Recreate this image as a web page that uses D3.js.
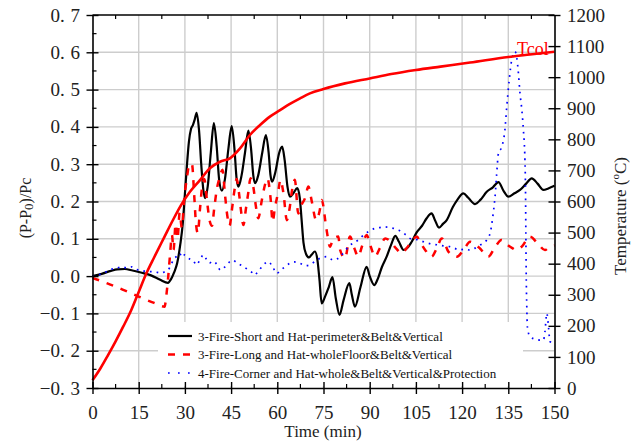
<!DOCTYPE html>
<html>
<head>
<meta charset="utf-8">
<script src="https://cdn.jsdelivr.net/npm/d3@7"></script>
<style>
  body { margin: 0; background: #fff; }
  svg { display: block; font-family: "Liberation Serif", "Times New Roman", serif; }
</style>
</head>
<body>
<svg id="chart" width="643" height="446"></svg>
<script>
// Axis ticks
const timeTicks = [0, 15, 30, 45, 60, 75, 90, 105, 120, 135, 150];
const pressureTicks = [-0.3, -0.2, -0.1, 0.0, 0.1, 0.2, 0.3, 0.4, 0.5, 0.6, 0.7];
const tempTicks = [0, 100, 200, 300, 400, 500, 600, 700, 800, 900, 1000, 1100, 1200];

const seriesNames = [
  "3-Fire-Short and Hat-perimeter&Belt&Vertical",
  "3-Fire-Long and Hat-wholeFloor&Belt&Vertical",
  "4-Fire-Corner and Hat-whole&Belt&Vertical&Protection"
];

// 3-Fire-Short: normalised pressure (P-P0)/Pc over time (min)
const shortTime = [0,3,6,8,10.5,13,16,19,22,24.5,25.5,26.5,27.5,28.5,29.3,30,30.6,31.3,32,32.6,33.2,33.8,34.6,35.3,36,36.6,37.4,38.4,39.4,40.3,41.1,42,43,44.1,45.2,46.1,46.8,47.4,48.4,49.5,50.6,51.5,52.2,52.8,53.8,55.1,56.3,57.2,57.8,58.3,59.4,60.6,61.6,62.4,63.3,64.1,65.2,66.5,67.3,67.9,68.5,69.3,70.3,71.2,72.2,73,73.7,74.4,75.5,76.7,77.9,79,80.2,81.5,83.4,84.2,85.2,87,89,90,91.5,92.5,94,95.5,97,98.3,99.5,101,102.5,103.5,105.3,107,108.5,110.1,111.2,112.5,113.8,115,117,118.5,120.4,122,124.2,126,128,130,131.8,133.5,135,137,138.8,140.8,142.6,144.5,146.4,148,150];
const shortP = [0,0.006,0.014,0.018,0.019,0.015,0.009,0.002,-0.01,-0.018,-0.008,0.01,0.035,0.085,0.14,0.22,0.29,0.36,0.395,0.405,0.42,0.438,0.39,0.30,0.23,0.209,0.24,0.33,0.41,0.35,0.26,0.229,0.26,0.34,0.402,0.34,0.26,0.24,0.27,0.33,0.39,0.34,0.27,0.249,0.27,0.33,0.378,0.33,0.27,0.253,0.28,0.33,0.347,0.31,0.24,0.213,0.222,0.236,0.21,0.15,0.09,0.06,0.05,0.058,0.066,0.045,-0.01,-0.073,-0.055,-0.03,-0.003,-0.06,-0.104,-0.065,-0.019,-0.05,-0.082,-0.03,0.025,0,-0.024,-0.01,0.025,0.052,0.085,0.108,0.092,0.07,0.078,0.09,0.118,0.135,0.155,0.168,0.15,0.13,0.14,0.15,0.185,0.205,0.222,0.21,0.193,0.205,0.226,0.238,0.252,0.228,0.213,0.222,0.231,0.248,0.262,0.248,0.231,0.235,0.242];

// 3-Fire-Long
const longTime = [0,5,10,15,20,23.4,24,24.6,25.2,25.8,26.3,27,27.6,28.3,29,29.8,30.6,31.5,32.3,33,33.6,34.2,34.9,35.6,36.3,37.2,38,38.8,39.5,40.3,41.3,42.2,43,43.8,44.5,45.3,46,46.8,47.6,48.3,49,49.8,50.6,51.3,52.2,53,53.8,55,56,56.8,57.8,58.5,59.2,60.3,61,62,63.1,64,64.8,65.7,66.8,67.8,69,70.1,71.2,72.6,73.7,74.4,76,77.1,78.2,79.8,80.4,82,83.6,85,86.3,87.5,89,90.3,91.7,93.3,95,96.5,98.5,100.4,102,103.8,105.3,106.3,108,110.1,111.8,113.4,115.6,118.3,120.5,122.6,124.2,125.8,128.5,130.5,132.8,134.5,136.3,137.5,139.5,142,144.5,146.9,148.5,150];
const longP = [-0.005,-0.02,-0.037,-0.055,-0.072,-0.082,-0.05,0.0,0.06,0.11,0.07,0.14,0.10,0.17,0.13,0.21,0.26,0.30,0.30,0.22,0.14,0.115,0.18,0.24,0.26,0.20,0.15,0.135,0.18,0.23,0.265,0.285,0.22,0.16,0.135,0.18,0.225,0.26,0.22,0.17,0.137,0.18,0.225,0.262,0.24,0.19,0.155,0.205,0.245,0.262,0.21,0.146,0.182,0.226,0.258,0.222,0.15,0.182,0.231,0.258,0.168,0.19,0.209,0.24,0.2,0.15,0.173,0.204,0.124,0.079,0.101,0.106,0.07,0.048,0.106,0.075,0.052,0.08,0.11,0.08,0.052,0.075,0.101,0.095,0.075,0.061,0.075,0.095,0.106,0.092,0.07,0.052,0.075,0.101,0.065,0.052,0.07,0.092,0.085,0.074,0.052,0.075,0.097,0.085,0.075,0.07,0.08,0.106,0.088,0.07,0.079,0.082];

// 4-Fire-Corner
const cornerTime = [0,2,4,6,8,9.5,11,12.6,14,15.8,17.5,19,21,22.3,23.5,24.5,25.5,26.3,27.2,28.3,29.1,29.9,30.8,31.7,32.6,33.7,34.8,36,37,38,39,40.5,41.5,43,44.5,45.5,47,48.5,50,51.5,52.5,54,55.5,57,58.5,59.8,61,62.5,64,65.5,67.4,69,70.6,72.3,73.9,76,78.2,80.4,82,83.6,85,86.3,88,89.5,91.7,93.3,94.9,96.3,97.7,99,100.4,101.8,103.1,105.8,107.5,109,111,112.8,114.5,116,117.5,119,120.8,122.6,124.2,125.8,128,129.1,130.1,130.7,131.2,131.8,132.9,133.9,134.5,135.3,136.1,137.2,137.7,138.2,138.8,139.4,139.9,140.4,140.6,140.7,140.8,141,141.2,142,144.2,146.4,146.9,147.5,148.1,148.5,149.6,150];
const cornerP = [0,0.003,0.01,0.018,0.022,0.025,0.022,0.025,0.018,0.016,0.012,0.012,0.01,0.008,0.012,0.016,0.03,0.045,0.052,0.061,0.05,0.057,0.052,0.045,0.043,0.03,0.042,0.057,0.045,0.035,0.04,0.03,0.016,0.025,0.038,0.043,0.035,0.028,0.02,0.012,0.003,0.015,0.03,0.039,0.025,0.007,0.015,0.025,0.034,0.038,0.034,0.028,0.03,0.04,0.048,0.052,0.043,0.052,0.068,0.083,0.09,0.097,0.11,0.119,0.128,0.13,0.132,0.13,0.128,0.124,0.119,0.11,0.101,0.097,0.092,0.088,0.085,0.083,0.08,0.079,0.075,0.07,0.072,0.07,0.075,0.083,0.097,0.115,0.168,0.213,0.271,0.329,0.347,0.392,0.454,0.526,0.579,0.602,0.588,0.552,0.49,0.445,0.392,0.311,0.222,0.115,0.016,-0.082,-0.136,-0.162,-0.17,-0.172,-0.149,-0.10,-0.14,-0.175,-0.18,-0.18];

// Column temperature Tcol (°C), right axis
const tcolTime = [0,2.5,5,7.5,10,12.6,15,17.5,20,23.4,26,28.8,31.7,34.9,38.1,41.4,44.6,47.9,51.1,54.4,57.6,60.9,64.1,67.4,70.6,75,82,90,97,105,113,122.6,135,142,150];
const tcolTemp = [25,62,105,150,198,251,309,369,420,487,538,589,632,669,707,728,739,771,814,846,873,894,914,932,948,962,980,996,1010,1023,1034,1047,1065,1073,1082];

const svg = d3.select("#chart");
const L = 92.5, R = 554.5, T = 15, B = 388;

const x = d3.scaleLinear().domain([0, 150]).range([L, R]);
const yP = d3.scaleLinear().domain([-0.3, 0.7]).range([B, T]);
const yT = d3.scaleLinear().domain([0, 1200]).range([B, T]);

// Grid
const grid = svg.append("g").attr("stroke", "#cdcdcd").attr("stroke-width", 1.4);
grid.selectAll("line.v").data(timeTicks.slice(1, -1)).join("line")
  .attr("x1", d => x(d)).attr("x2", d => x(d)).attr("y1", T).attr("y2", B);
grid.selectAll("line.h").data(pressureTicks.slice(1, -1)).join("line")
  .attr("x1", L).attr("x2", R).attr("y1", d => yP(d)).attr("y2", d => yP(d));

// Legend background sits over the grid
const legend = svg.append("g");
legend.append("rect").attr("x", 158).attr("y", 322).attr("width", 365).attr("height", 64).attr("fill", "#fff");

// Series
const toPts = (ts, vs) => ts.map((t, i) => [t, vs[i]]);
const lineP = d3.line().x(d => x(d[0])).y(d => yP(d[1])).curve(d3.curveMonotoneX);
const lineT = d3.line().x(d => x(d[0])).y(d => yT(d[1])).curve(d3.curveMonotoneX);

const plot = svg.append("g").attr("fill", "none");
plot.append("path").attr("d", lineP(toPts(shortTime, shortP)))
  .attr("stroke", "#000").attr("stroke-width", 2.2).attr("stroke-linejoin", "round");
plot.append("path").attr("d", lineP(toPts(longTime, longP)))
  .attr("stroke", "#ff0000").attr("stroke-width", 2.5).attr("stroke-dasharray", "7,8");
plot.append("path").attr("d", lineP(toPts(cornerTime, cornerP)))
  .attr("stroke", "#0000ff").attr("stroke-width", 1.7).attr("stroke-dasharray", "1.7,5");
plot.append("path").attr("d", lineT(toPts(tcolTime, tcolTemp)))
  .attr("stroke", "#ff0000").attr("stroke-width", 2.6).attr("stroke-linejoin", "round");

svg.append("text").attr("x", 517).attr("y", 55).attr("fill", "#ff0000")
  .attr("font-size", 18).text("Tcol");

// Legend entries
const legendRows = [
  { name: seriesNames[0], color: "#000", width: 2.2, dash: null },
  { name: seriesNames[1], color: "#ff0000", width: 2.5, dash: "7,8" },
  { name: seriesNames[2], color: "#0000ff", width: 1.7, dash: "1.7,8.3" }
];
const rowY = [336, 354.5, 373];
legendRows.forEach((r, i) => {
  legend.append("line").attr("x1", 168).attr("x2", 192).attr("y1", rowY[i]).attr("y2", rowY[i])
    .attr("stroke", r.color).attr("stroke-width", r.width).attr("stroke-dasharray", r.dash);
  legend.append("text").attr("x", 198).attr("y", rowY[i]).attr("dy", "0.35em")
    .attr("font-size", 13).attr("fill", "#111").text(r.name);
});

// Axes
const tickFont = 19;
const axisColor = "#000";

function styleAxis(g) {
  g.attr("font-family", "'Liberation Serif', 'Times New Roman', serif");
  g.select(".domain").attr("stroke", axisColor).attr("stroke-width", 1.6);
  g.selectAll(".tick line").attr("stroke", axisColor).attr("stroke-width", 1.4);
  g.selectAll(".tick text").attr("font-size", tickFont).attr("fill", "#222");
}

// Left
const gL = svg.append("g").attr("transform", `translate(${L},0)`)
  .call(d3.axisLeft(yP).tickValues(pressureTicks).tickSize(6).tickPadding(6.5).tickSizeOuter(0))
  .call(styleAxis);
gL.selectAll(".tick line").attr("x1", 6);
gL.selectAll(".tick text").each(function(d) {
  const s = d3.format(".1f")(d);
  const parts = s.split(".");
  const el = d3.select(this).text(parts[0] + ".");
  el.append("tspan").attr("dx", "0.3em").text(parts[1]);
});
gL.selectAll("line.minor").data(d3.range(-0.25, 0.7, 0.1)).join("line").attr("class", "minor")
  .attr("x1", 0).attr("x2", 4).attr("y1", d => yP(d)).attr("y2", d => yP(d))
  .attr("stroke", axisColor).attr("stroke-width", 1.2);

// Right
const gR = svg.append("g").attr("transform", `translate(${R},0)`)
  .call(d3.axisRight(yT).tickValues(tempTicks).tickFormat(d3.format("d"))
    .tickSize(6).tickPadding(6.5).tickSizeOuter(0))
  .call(styleAxis);
gR.selectAll(".tick line").attr("x1", -6);

// Bottom
const gB = svg.append("g").attr("transform", `translate(0,${B})`)
  .call(d3.axisBottom(x).tickValues(timeTicks).tickFormat(d3.format("d"))
    .tickSize(6).tickPadding(12).tickSizeOuter(0))
  .call(styleAxis);
gB.selectAll(".tick line").attr("y1", -6);
gB.selectAll("line.minor").data(d3.range(7.5, 150, 15)).join("line").attr("class", "minor")
  .attr("x1", d => x(d)).attr("x2", d => x(d)).attr("y1", 0).attr("y2", -4)
  .attr("stroke", axisColor).attr("stroke-width", 1.2);

// Top frame
const gTop = svg.append("g");
gTop.append("line").attr("x1", L).attr("x2", R).attr("y1", T).attr("y2", T)
  .attr("stroke", axisColor).attr("stroke-width", 1.6);
gTop.selectAll("line.minor").data(d3.range(7.5, 150, 15)).join("line").attr("class", "minor")
  .attr("x1", d => x(d)).attr("x2", d => x(d)).attr("y1", T).attr("y2", T + 4)
  .attr("stroke", axisColor).attr("stroke-width", 1.2);

// Axis titles
svg.append("text").attr("x", 323).attr("y", 437).attr("text-anchor", "middle")
  .attr("font-size", 17).attr("fill", "#222").text("Time (min)");

const yTitle = svg.append("text").attr("transform", "translate(31,208) rotate(-90)")
  .attr("text-anchor", "middle").attr("font-size", 16).attr("fill", "#222");
yTitle.append("tspan").text("(P-P");
yTitle.append("tspan").attr("font-size", 13).attr("dy", 1.5).text("0");
yTitle.append("tspan").attr("dy", -1.5).text(")/Pc");

const tTitle = svg.append("text").attr("transform", "translate(626,216) rotate(-90)")
  .attr("text-anchor", "middle").attr("font-size", 17).attr("fill", "#222");
tTitle.append("tspan").text("Temperature (");
tTitle.append("tspan").attr("font-size", 11).attr("dy", -7).text("o");
tTitle.append("tspan").attr("dy", 7).text("C)");
</script>
</body>
</html>
